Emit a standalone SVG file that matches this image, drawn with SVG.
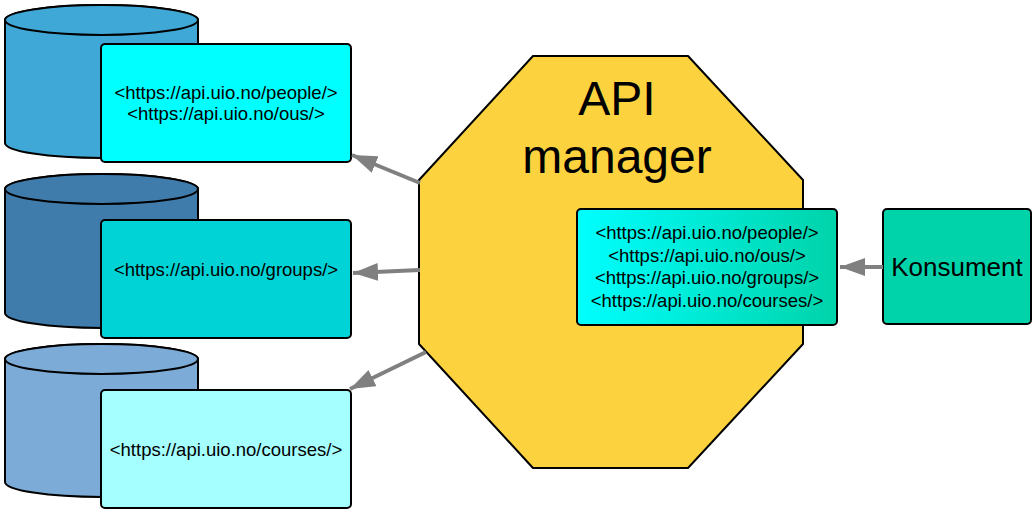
<svg xmlns="http://www.w3.org/2000/svg" width="1036" height="514" viewBox="0 0 1036 514">
<defs>
<style>
.cyl{stroke:#000;stroke-width:2}
.box{stroke:#000;stroke-width:2}
.url{font-family:"Liberation Sans",Arial,Helvetica,sans-serif;font-size:18.5px;fill:#000;text-anchor:middle}
.big{font-family:"Liberation Sans",Arial,Helvetica,sans-serif;font-size:48px;fill:#000;text-anchor:middle}
.kons{font-family:"Liberation Sans",Arial,Helvetica,sans-serif;font-size:26px;fill:#000;text-anchor:middle}
.conn{stroke:#808080;stroke-width:4;fill:none;marker-end:url(#ah)}
</style>
<marker id="ah" markerUnits="userSpaceOnUse" markerWidth="26" markerHeight="20" refX="25" refY="9" orient="auto">
<path d="M0,0 L25,9 L0,18 Z" fill="#808080"/>
</marker>
<linearGradient id="g1" x1="0" y1="0" x2="1" y2="0">
<stop offset="0" stop-color="#00FFFF"/>
<stop offset="1" stop-color="#00D3A9"/>
</linearGradient>
</defs>
<g id="db1">
<path class="cyl" fill="#3FA8D6" d="M5,20 L5,143 A96.5,15 0 0 0 198,143 L198,20 A96.5,15 0 0 0 5,20 Z"/>
<ellipse class="cyl" fill="#3FA8D6" cx="101.5" cy="20" rx="96.5" ry="15"/>
</g>
<g id="db2">
<path class="cyl" fill="#3F7BAB" d="M5,189 L5,313 A96.5,15 0 0 0 198,313 L198,189 A96.5,15 0 0 0 5,189 Z"/>
<ellipse class="cyl" fill="#3F7BAB" cx="101.5" cy="189" rx="96.5" ry="15"/>
</g>
<g id="db3">
<path class="cyl" fill="#7BABD6" d="M5,359 L5,482 A96.5,15 0 0 0 198,482 L198,359 A96.5,15 0 0 0 5,359 Z"/>
<ellipse class="cyl" fill="#7BABD6" cx="101.5" cy="359" rx="96.5" ry="15"/>
</g>
<g id="box1">
<rect class="box" x="101" y="44" width="250" height="118" rx="4" fill="#00FFFF"/>
<text class="url" x="226" y="99">&lt;https://api.uio.no/people/&gt;</text>
<text class="url" x="226" y="120">&lt;https://api.uio.no/ous/&gt;</text>
</g>
<g id="box2">
<rect class="box" x="101" y="220" width="250" height="118" rx="4" fill="#00D3D5"/>
<text class="url" x="226" y="276">&lt;https://api.uio.no/groups/&gt;</text>
</g>
<g id="box3">
<rect class="box" x="101" y="390" width="250" height="118" rx="4" fill="#A6FFFF"/>
<text class="url" x="226" y="456">&lt;https://api.uio.no/courses/&gt;</text>
</g>
<g id="apimanager">
<polygon points="533,56 688,56 803,180 803,344 688,468 533,468 419,344 419,180" fill="#FCD33F" stroke="#000" stroke-width="2" stroke-linejoin="round"/>
<text class="big" x="617" y="115">API</text>
<text class="big" x="617" y="173">manager</text>
</g>
<g id="gateway">
<rect class="box" x="577" y="209" width="260" height="116" rx="4" fill="url(#g1)"/>
<text class="url" x="707" y="239">&lt;https://api.uio.no/people/&gt;</text>
<text class="url" x="707" y="262">&lt;https://api.uio.no/ous/&gt;</text>
<text class="url" x="707" y="284">&lt;https://api.uio.no/groups/&gt;</text>
<text class="url" x="707" y="307">&lt;https://api.uio.no/courses/&gt;</text>
</g>
<g id="konsument">
<rect class="box" x="883" y="209" width="148" height="115" rx="4" fill="#00D3AA"/>
<text class="kons" x="957" y="276">Konsument</text>
</g>
<g id="connectors">
<line class="conn" x1="420" y1="183" x2="352" y2="155"/>
<line class="conn" x1="420" y1="270" x2="353" y2="273"/>
<line class="conn" x1="426" y1="352" x2="350" y2="389"/>
<line class="conn" x1="883" y1="267" x2="840" y2="267"/>
</g>
</svg>
